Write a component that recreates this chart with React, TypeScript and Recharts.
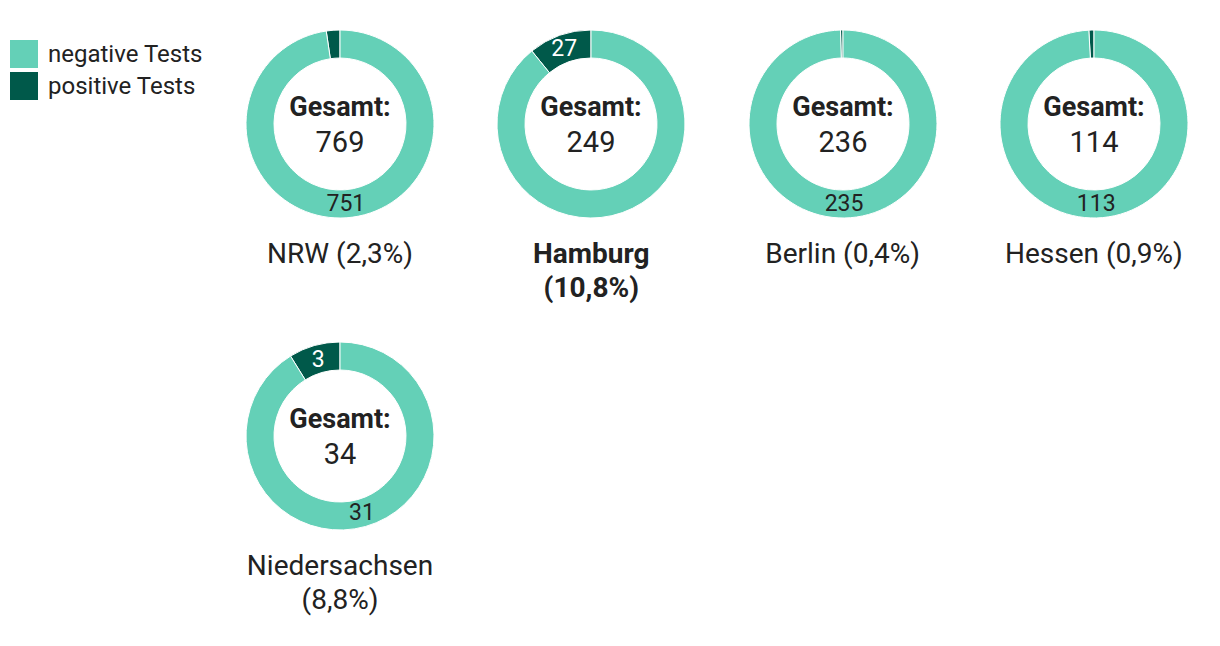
import React from "react";
import { PieChart, Pie, Cell, Label } from "recharts";

const regions = ["NRW", "Hamburg", "Berlin", "Hessen", "Niedersachsen"];
const negativeTests = [751, 222, 235, 113, 31];
const positiveTests = [18, 27, 1, 1, 3];
const shares = ["2,3%", "10,8%", "0,4%", "0,9%", "8,8%"];
const highlighted = ["Hamburg"];
// regions whose negative value label is not printed in the original
const hiddenNegativeLabels = ["Hamburg"];

const seriesNames = ["positive Tests", "negative Tests"];
const legendOrder = ["negative Tests", "positive Tests"];
const colors: Record<string, string> = {
  "negative Tests": "#64d0b7",
  "positive Tests": "#00594a",
};

const FONT = "Roboto, 'Noto Sans', sans-serif";
const TEXT = "#222";
const RADIAN = Math.PI / 180;

const makeSliceLabel = (region: string) => (props: any) => {
  const { cx, cy, midAngle, innerRadius, outerRadius, percent, value, name } = props;
  if (percent < 0.05) return null;
  if (name === "negative Tests" && hiddenNegativeLabels.includes(region)) return null;
  const r = (innerRadius + outerRadius) / 2;
  const x = cx + r * Math.cos(-midAngle * RADIAN);
  const y = cy + r * Math.sin(-midAngle * RADIAN);
  return (
    <text
      x={x}
      y={y}
      textAnchor="middle"
      dominantBaseline="central"
      fill={name === "positive Tests" ? "#fff" : TEXT}
      fontSize={23}
      fontFamily={FONT}
    >
      {value}
    </text>
  );
};

function Donut({ idx }: { idx: number }) {
  const data = [
    { name: seriesNames[0], value: positiveTests[idx] },
    { name: seriesNames[1], value: negativeTests[idx] },
  ];
  const total = positiveTests[idx] + negativeTests[idx];
  const bold = highlighted.includes(regions[idx]);
  const col = idx % 4;
  const row = Math.floor(idx / 4);
  const cxPage = 340 + col * 251.3;
  const cyPage = 124 + row * 312;

  return (
    <div
      style={{
        position: "absolute",
        left: cxPage - 110,
        top: cyPage - 110,
        width: 220,
      }}
    >
      <PieChart width={220} height={220} margin={{ top: 0, right: 0, bottom: 0, left: 0 }}>
        <Pie
          data={data}
          dataKey="value"
          nameKey="name"
          cx={110}
          cy={110}
          innerRadius={66}
          outerRadius={94}
          startAngle={90}
          endAngle={450}
          stroke="#fff"
          strokeWidth={1}
          label={makeSliceLabel(regions[idx])}
          labelLine={false}
          isAnimationActive={false}
        >
          {data.map((d) => (
            <Cell key={d.name} fill={colors[d.name]} />
          ))}
          <Label
            position="center"
            content={(p: any) => {
              const vb = p.viewBox || {};
              const cx = vb.cx ?? 110;
              const cy = vb.cy ?? 110;
              return (
                <g>
                  <text
                    x={cx}
                    y={cy - 17}
                    textAnchor="middle"
                    dominantBaseline="central"
                    fontSize={27}
                    fontWeight={700}
                    fontFamily={FONT}
                    fill={TEXT}
                  >
                    Gesamt:
                  </text>
                  <text
                    x={cx}
                    y={cy + 18}
                    textAnchor="middle"
                    dominantBaseline="central"
                    fontSize={29}
                    fontFamily={FONT}
                    fill={TEXT}
                  >
                    {total}
                  </text>
                </g>
              );
            }}
          />
        </Pie>
      </PieChart>
      <div
        style={{
          position: "absolute",
          top: 223,
          left: 10,
          width: 200,
          textAlign: "center",
          fontFamily: FONT,
          fontSize: 28,
          lineHeight: "34px",
          fontWeight: bold ? 700 : 400,
          color: TEXT,
        }}
      >
        {regions[idx]} ({shares[idx]})
      </div>
    </div>
  );
}

export default function App() {
  return (
    <div
      style={{
        position: "absolute",
        left: 0,
        top: 0,
        width: 1220,
        height: 646,
        background: "#fff",
        fontFamily: FONT,
      }}
    >
      <div style={{ position: "absolute", left: 10, top: 40 }}>
        {legendOrder.map((s) => (
          <div
            key={s}
            style={{ display: "flex", alignItems: "center", height: 28, marginBottom: 4 }}
          >
            <div style={{ width: 28, height: 28, background: colors[s] }} />
            <span style={{ marginLeft: 10, fontSize: 24, color: TEXT }}>{s}</span>
          </div>
        ))}
      </div>
      {regions.map((r, i) => (
        <Donut key={r} idx={i} />
      ))}
    </div>
  );
}
